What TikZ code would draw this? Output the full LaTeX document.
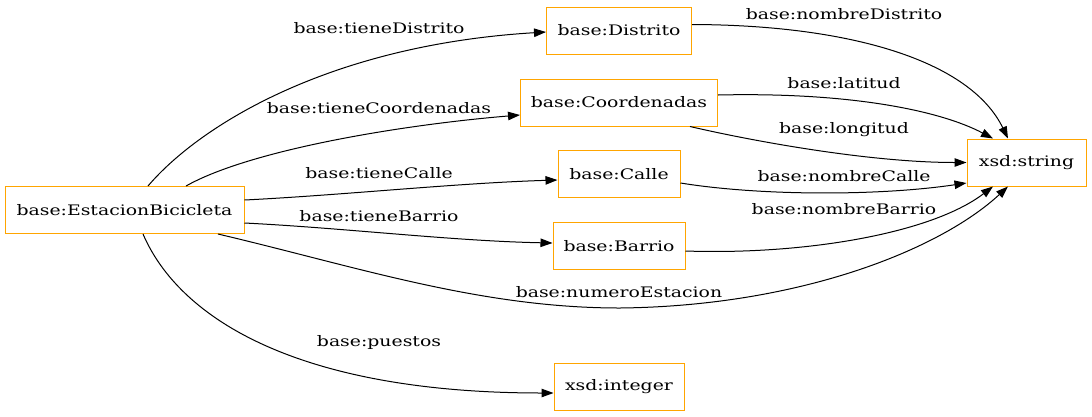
\documentclass[tikz,border=0pt]{standalone}
\usepackage{fontspec}
\setmainfont{DejaVu Serif}[FakeStretch=1.3]
\usetikzlibrary{arrows.meta}
\definecolor{gvorange}{RGB}{255,165,0}
\begin{document}
\begin{tikzpicture}[x=1pt,y=-1pt,
  cls/.style={draw=gvorange,line width=1pt,fill=white,inner sep=0pt,minimum height=47pt,font=\fontsize{14.5}{16}\selectfont},
  lbl/.style={font=\fontsize{14.5}{16}\selectfont,inner sep=1pt},
  rel/.style={draw=black,line width=1pt,-{Triangle[length=12pt,width=8.5pt]}}]
\useasboundingbox (0,0) rectangle (1092,416);
\node[cls,minimum width=239pt] (est) at (124.5,210) {base:EstacionBicicleta};
\node[cls,minimum width=145pt] (dis) at (619,30.5) {base:Distrito};
\node[cls,minimum width=197pt] (coo) at (619,102.5) {base:Coordenadas};
\node[cls,minimum width=122pt] (cal) at (619,174) {base:Calle};
\node[cls,minimum width=132pt] (bar) at (619,246) {base:Barrio};
\node[cls,minimum width=130pt] (int) at (619,386.5) {xsd:integer};
\node[cls,minimum width=119pt] (str) at (1026.5,162.5) {xsd:string};
\coordinate (mid) at (620,308);
% edges from EstacionBicicleta
\draw[rel] ([xshift=23.5pt]est.north) .. controls +(52,-61) and +(-216,13) .. ([yshift=-1.5pt]dis.west);
\draw[rel] ([xshift=61.5pt]est.north) .. controls +(64,-36) and +(-120,10) .. ([yshift=-12.5pt]coo.west);
\draw[rel] ([yshift=10pt]est.east) .. controls +(100,-5) and +(-100,3) .. ([yshift=-6pt]cal.west);
\draw[rel] ([yshift=-13pt]est.east) .. controls +(100,5) and +(-100,-2) .. ([yshift=3pt]bar.west);
\draw[rel] ([xshift=93.5pt]est.south) .. controls +(140,33) and +(-140,0) .. (mid) .. controls +(180,-2) and +(-68,63) .. ([xshift=-18.5pt]str.south);
\draw[rel] ([xshift=18.5pt]est.south) .. controls +(37,86) and +(-253,0) .. ([yshift=-6.5pt]int.west);
% edges to string
\draw[rel] ([yshift=6pt]dis.east) .. controls +(158,0.5) and +(-38,-78) .. ([xshift=-18.5pt]str.north);
\draw[rel] ([yshift=7.5pt]coo.east) .. controls +(132,-3) and +(-53,-28) .. ([xshift=-33.5pt]str.north);
\draw[rel] ([xshift=71pt]coo.south) .. controls +(60,14) and +(-98,0) .. (str.west);
\draw[rel] ([yshift=-9pt]cal.east) .. controls +(80,13) and +(-87,13) .. ([yshift=-20.5pt]str.west);
\draw[rel] ([yshift=-5pt]bar.east) .. controls +(115,4) and +(-63,48) .. ([xshift=-33.5pt]str.south);
% labels
\node[lbl] (l1) at (379,28) {base:tieneDistrito};
\node[lbl] (l2) at (379,108) {base:tieneCoordenadas};
\node[lbl] (l3) at (379,173) {base:tieneCalle};
\node[lbl] (l4) at (379,216) {base:tieneBarrio};
\node[lbl] (l5) at (619,292) {base:numeroEstacion};
\node[lbl] (l6) at (379,342) {base:puestos};
\node[lbl] (l7) at (844,14) {base:nombreDistrito};
\node[lbl] (l8) at (844,83) {base:latitud};
\node[lbl] (l9) at (844,130) {base:longitud};
\node[lbl] (l10) at (844,176) {base:nombreCalle};
\node[lbl] (l11) at (844,209) {base:nombreBarrio};
\end{tikzpicture}
\end{document}
